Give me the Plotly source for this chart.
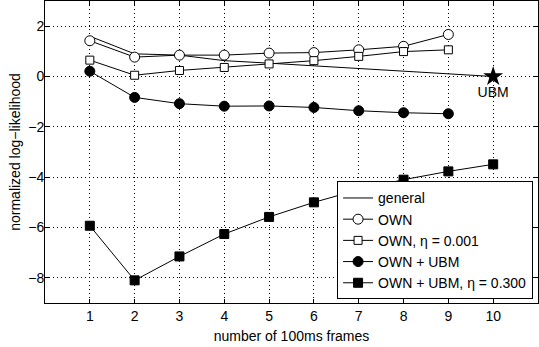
import plotly.graph_objects as go

frames = [1, 2, 3, 4, 5, 6, 7, 8, 9, 10]
general = [1.6, 0.9, 0.85, 0.63, 0.53, 0.43, 0.31, 0.21, 0.10, 0.0]
own = [1.42, 0.77, 0.85, 0.85, 0.93, 0.95, 1.06, 1.2, 1.67]
own_eta = [0.65, 0.05, 0.24, 0.36, 0.5, 0.63, 0.8, 0.99, 1.06]
own_ubm = [0.21, -0.83, -1.08, -1.18, -1.17, -1.23, -1.36, -1.44, -1.48]
own_ubm_eta = [-5.93, -8.1, -7.15, -6.26, -5.58, -5.0, -4.5, -4.1, -3.77, -3.49]
ubm_x = [10]
ubm_y = [0.0]

FONT = "Liberation Sans"

fig = go.Figure()
fig.add_trace(go.Scatter(x=frames, y=general, mode="lines", name="general",
                         line=dict(color="black", width=1)))
fig.add_trace(go.Scatter(x=frames[:9], y=own, mode="lines+markers", name="OWN",
                         line=dict(color="black", width=1),
                         marker=dict(symbol="circle", size=10, color="white",
                                     line=dict(color="black", width=1))))
fig.add_trace(go.Scatter(x=frames[:9], y=own_eta, mode="lines+markers", name="OWN, η = 0.001",
                         line=dict(color="black", width=1),
                         marker=dict(symbol="square", size=8, color="white",
                                     line=dict(color="black", width=1))))
fig.add_trace(go.Scatter(x=frames[:9], y=own_ubm, mode="lines+markers", name="OWN + UBM",
                         line=dict(color="black", width=1),
                         marker=dict(symbol="circle", size=10, color="black",
                                     line=dict(color="black", width=1))))
fig.add_trace(go.Scatter(x=frames, y=own_ubm_eta, mode="lines+markers", name="OWN + UBM, η = 0.300",
                         line=dict(color="black", width=1),
                         marker=dict(symbol="square", size=9, color="black",
                                     line=dict(color="black", width=1))))
fig.add_trace(go.Scatter(x=ubm_x, y=ubm_y, mode="markers+text", text=["UBM"],
                         textposition="bottom center", showlegend=False,
                         textfont=dict(size=14, color="black", family=FONT),
                         marker=dict(symbol="star", size=15, color="black")))

axis_common = dict(showline=True, linecolor="black", linewidth=1, mirror="ticks",
                   ticks="inside", ticklen=4, tickcolor="black",
                   showgrid=True, gridcolor="black", griddash="1px,3px", gridwidth=1,
                   zeroline=False, automargin=False,
                   tickfont=dict(size=14, color="black", family=FONT))

fig.update_layout(
    width=539, height=347,
    margin=dict(l=45, r=1, t=1, b=44),
    paper_bgcolor="white", plot_bgcolor="white",
    font=dict(family=FONT, size=14, color="black"),
    xaxis=dict(range=[0, 11], tickvals=frames,
               title=dict(text="number of 100ms frames", standoff=8,
                          font=dict(size=14, family=FONT)),
               **axis_common),
    yaxis=dict(range=[-9, 3], tickvals=[-8, -6, -4, -2, 0, 2],
               ticktext=["−8", "−6", "−4", "−2", "0", "2"],
               ticklabelstandoff=-3,
               title=dict(text="normalized log−likelihood", standoff=4,
                          font=dict(size=14, family=FONT)),
               **axis_common),
    legend=dict(x=0.99, y=0.012, xanchor="right", yanchor="bottom",
                bordercolor="black", borderwidth=1, bgcolor="white",
                font=dict(size=14, family=FONT), tracegroupgap=0, itemwidth=30),
    showlegend=True,
)

fig.write_html("out.html", config={"displayModeBar": False},
               post_script="document.body.style.margin='0';document.body.style.overflow='hidden';")
